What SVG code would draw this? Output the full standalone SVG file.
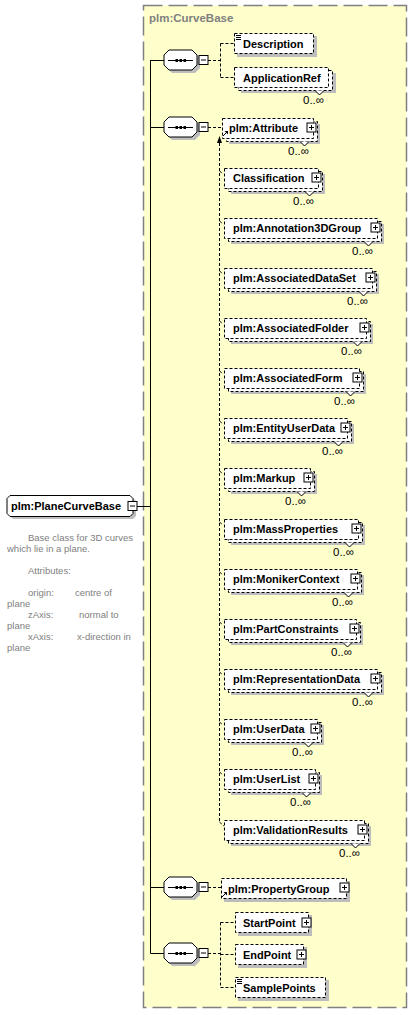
<svg xmlns="http://www.w3.org/2000/svg" width="412" height="1015" viewBox="0 0 412 1015">
<style>
.bg{fill:#FFFFCC;stroke:#808080;stroke-width:1.5;stroke-dasharray:19,6}
.ttl{font:bold 11.5px "Liberation Sans",Arial,sans-serif;fill:#808080}
.t{font:bold 11px "Liberation Sans",Arial,sans-serif;fill:#000}
.m{font:11.5px "Liberation Sans",Arial,sans-serif;fill:#000}
.a{font:9.5px "Liberation Sans",Arial,sans-serif;fill:#808080}
.sh{fill:#BDBDBD}
.bx{fill:#fff;stroke:#000;stroke-width:1;stroke-dasharray:3,2}
.sol{fill:#fff;stroke:#000;stroke-width:1}
.ln{fill:none;stroke:#000;stroke-width:1}
.dl{fill:none;stroke:#000;stroke-width:1;stroke-dasharray:3,2}
.v{fill:#fff;stroke:#000;stroke-width:1}
</style>
<defs>
<g id="plus"><rect class="sol" x="0" y="0" width="9" height="9"/><path class="ln" d="M2 4.5H7M4.5 2V7"/></g>
<g id="minus"><rect class="sol" x="0" y="0" width="9" height="9"/><path class="ln" d="M2 4.5H7"/></g>
<g id="seq">
<polygon class="sh" points="172,-7 195,-7 200,-2 200,8 195,13 172,13 167,8 167,-2"/>
<polygon class="sol" points="169,-10 192,-10 197,-5 197,5 192,10 169,10 164,5 164,-5"/>
<path class="ln" d="M168 0.5H193"/>
<rect x="175.5" y="-1" width="2.5" height="3" fill="#000"/>
<rect x="179.5" y="-1" width="2.5" height="3" fill="#000"/>
<rect x="183.5" y="-1" width="2.5" height="3" fill="#000"/>
<use href="#minus" x="199" y="-4.5"/>
</g>
<g id="refarrow"><path class="ln" d="M0 5L4 1"/><path d="M1.5 0H5V3.5Z" fill="#000"/></g>
</defs>

<g id="container">
<rect class="bg" x="143.5" y="5.5" width="263" height="1002"/>
<text class="ttl" x="149" y="22">plm:CurveBase</text>
</g>

<g id="connectors">
<path class="ln" d="M137 506.5H150.5M150.5 60V953.5M150.5 60.5H164M150.5 127.5H164M150.5 887.5H164M150.5 953.5H164"/>
<path class="dl" d="M208 60.5H220.5M220.5 43.5V77.5M220.5 43.5H234M220.5 77.5H234"/>
<path class="dl" d="M208 127.5H222M219.5 143V822M219.5 822L224 826"/>
<path d="M219.5 136L217 143H222Z" fill="#000"/>
<path class="dl" d="M219.5 171L223 174M219.5 221L223 224M219.5 271L223 274M219.5 321L223 324M219.5 371L223 374M219.5 421L223 424M219.5 471L223 474M219.5 522L223 525M219.5 572L223 575M219.5 622L223 625M219.5 672L223 675M219.5 722L223 725M219.5 772L223 775"/>
<path class="dl" d="M208 887.5H221"/>
<path class="dl" d="M208 953.5H220.5M220.5 922.5V987.5M220.5 922.5H235M220.5 954.5H235M220.5 987.5H235"/>
</g>

<g id="PlaneCurveBase">
<polygon class="sh" points="13,498 133,498 136,501 136,516 133,519 13,519 10,516 10,501"/>
<polygon class="sol" points="10,495.5 130,495.5 133,498.5 133,513.5 130,516.5 10,516.5 7,513.5 7,498.5"/>
<text class="t" x="11" y="510">plm:PlaneCurveBase</text>
<use href="#minus" x="128" y="501.5"/>
</g>
<g id="PlaneCurveBase-doc">
<text class="a" x="28" y="541">Base class for 3D curves</text>
<text class="a" x="7" y="552">which lie in a plane.</text>
<text class="a" x="28" y="574">Attributes:</text>
<text class="a" x="28" y="596">origin:</text><text class="a" x="75" y="596">centre of</text>
<text class="a" x="7" y="607">plane</text>
<text class="a" x="28" y="618">zAxis:</text><text class="a" x="79" y="618">normal to</text>
<text class="a" x="7" y="629">plane</text>
<text class="a" x="28" y="640">xAxis:</text><text class="a" x="77" y="640">x-direction in</text>
<text class="a" x="7" y="651">plane</text>
</g>

<g id="seq1"><use href="#seq" y="60"/></g>
<g id="seq2"><use href="#seq" y="127"/></g>
<g id="seq3"><use href="#seq" y="887"/></g>
<g id="seq4"><use href="#seq" y="953"/></g>

<g id="Description">
<rect class="sh" x="237" y="36" width="80" height="21"/>
<rect class="bx" x="234.5" y="33.5" width="79" height="20"/>
<path class="ln" d="M236 35.5H241M236 37.5H241M236 39.5H241"/>
<text class="t" x="243" y="48">Description</text>
</g>

<g id="ApplicationRef">
<rect class="sh" x="241" y="73" width="95" height="20"/>
<rect class="bx" x="238.5" y="70.5" width="94" height="20"/>
<rect class="bx" x="234.5" y="67.5" width="94" height="20"/>
<path class="v" d="M315 90.5L319.5 95L324 90.5"/>
<text class="t" x="243" y="82">ApplicationRef</text>
<text class="m" x="324" y="104" text-anchor="end">0..∞</text>
</g>

<g id="Attribute">
<rect class="sh" x="229" y="124" width="91" height="20"/>
<rect class="bx" x="226.5" y="121.5" width="91" height="20"/>
<rect class="bx" x="222.5" y="118.5" width="91" height="20"/>
<path class="v" d="M300 141.5L304.5 146L309 141.5"/>
<use href="#refarrow" x="223" y="131"/>
<text class="t" x="229" y="132">plm:Attribute</text>
<use href="#plus" x="307" y="123"/>
<text class="m" x="309" y="155" text-anchor="end">0..∞</text>
</g>

<g id="Classification">
<rect class="sh" x="231" y="174" width="94" height="20"/>
<rect class="bx" x="228.5" y="171.5" width="94" height="20"/>
<rect class="bx" x="224.5" y="168.5" width="94" height="20"/>
<path class="v" d="M305 191.5L309.5 196L314 191.5"/>
<text class="t" x="233" y="182">Classification</text>
<use href="#plus" x="312" y="173"/>
<text class="m" x="314" y="205" text-anchor="end">0..∞</text>
</g>

<g id="Annotation3DGroup">
<rect class="sh" x="231" y="224" width="153" height="20"/>
<rect class="bx" x="228.5" y="221.5" width="153" height="20"/>
<rect class="bx" x="224.5" y="218.5" width="153" height="20"/>
<path class="v" d="M364 241.5L368.5 246L373 241.5"/>
<text class="t" x="233" y="232">plm:Annotation3DGroup</text>
<use href="#plus" x="371" y="223"/>
<text class="m" x="373" y="255" text-anchor="end">0..∞</text>
</g>

<g id="AssociatedDataSet">
<rect class="sh" x="231" y="274" width="148" height="20"/>
<rect class="bx" x="228.5" y="271.5" width="148" height="20"/>
<rect class="bx" x="224.5" y="268.5" width="148" height="20"/>
<path class="v" d="M359 291.5L363.5 296L368 291.5"/>
<text class="t" x="233" y="282">plm:AssociatedDataSet</text>
<use href="#plus" x="366" y="273"/>
<text class="m" x="368" y="305" text-anchor="end">0..∞</text>
</g>

<g id="AssociatedFolder">
<rect class="sh" x="231" y="324" width="142" height="20"/>
<rect class="bx" x="228.5" y="321.5" width="142" height="20"/>
<rect class="bx" x="224.5" y="318.5" width="142" height="20"/>
<path class="v" d="M353 341.5L357.5 346L362 341.5"/>
<text class="t" x="233" y="332">plm:AssociatedFolder</text>
<use href="#plus" x="360" y="323"/>
<text class="m" x="362" y="355" text-anchor="end">0..∞</text>
</g>

<g id="AssociatedForm">
<rect class="sh" x="231" y="374" width="135" height="20"/>
<rect class="bx" x="228.5" y="371.5" width="135" height="20"/>
<rect class="bx" x="224.5" y="368.5" width="135" height="20"/>
<path class="v" d="M346 391.5L350.5 396L355 391.5"/>
<text class="t" x="233" y="382">plm:AssociatedForm</text>
<use href="#plus" x="353" y="373"/>
<text class="m" x="355" y="405" text-anchor="end">0..∞</text>
</g>

<g id="EntityUserData">
<rect class="sh" x="231" y="424" width="123" height="20"/>
<rect class="bx" x="228.5" y="421.5" width="123" height="20"/>
<rect class="bx" x="224.5" y="418.5" width="123" height="20"/>
<path class="v" d="M334 441.5L338.5 446L343 441.5"/>
<text class="t" x="233" y="432">plm:EntityUserData</text>
<use href="#plus" x="341" y="423"/>
<text class="m" x="343" y="455" text-anchor="end">0..∞</text>
</g>

<g id="Markup">
<rect class="sh" x="231" y="474" width="86" height="20"/>
<rect class="bx" x="228.5" y="471.5" width="86" height="20"/>
<rect class="bx" x="224.5" y="468.5" width="86" height="20"/>
<path class="v" d="M297 491.5L301.5 496L306 491.5"/>
<text class="t" x="233" y="482">plm:Markup</text>
<use href="#plus" x="304" y="473"/>
<text class="m" x="306" y="505" text-anchor="end">0..∞</text>
</g>

<g id="MassProperties">
<rect class="sh" x="231" y="525" width="134" height="20"/>
<rect class="bx" x="228.5" y="522.5" width="134" height="20"/>
<rect class="bx" x="224.5" y="519.5" width="134" height="20"/>
<path class="v" d="M345 542.5L349.5 547L354 542.5"/>
<text class="t" x="233" y="533">plm:MassProperties</text>
<use href="#plus" x="352" y="524"/>
<text class="m" x="354" y="556" text-anchor="end">0..∞</text>
</g>

<g id="MonikerContext">
<rect class="sh" x="231" y="575" width="133" height="20"/>
<rect class="bx" x="228.5" y="572.5" width="133" height="20"/>
<rect class="bx" x="224.5" y="569.5" width="133" height="20"/>
<path class="v" d="M344 592.5L348.5 597L353 592.5"/>
<text class="t" x="233" y="583">plm:MonikerContext</text>
<use href="#plus" x="351" y="574"/>
<text class="m" x="353" y="606" text-anchor="end">0..∞</text>
</g>

<g id="PartConstraints">
<rect class="sh" x="231" y="625" width="132" height="20"/>
<rect class="bx" x="228.5" y="622.5" width="132" height="20"/>
<rect class="bx" x="224.5" y="619.5" width="132" height="20"/>
<path class="v" d="M343 642.5L347.5 647L352 642.5"/>
<text class="t" x="233" y="633">plm:PartConstraints</text>
<use href="#plus" x="350" y="624"/>
<text class="m" x="352" y="656" text-anchor="end">0..∞</text>
</g>

<g id="RepresentationData">
<rect class="sh" x="231" y="675" width="153" height="20"/>
<rect class="bx" x="228.5" y="672.5" width="153" height="20"/>
<rect class="bx" x="224.5" y="669.5" width="153" height="20"/>
<path class="v" d="M364 692.5L368.5 697L373 692.5"/>
<text class="t" x="233" y="683">plm:RepresentationData</text>
<use href="#plus" x="371" y="674"/>
<text class="m" x="373" y="706" text-anchor="end">0..∞</text>
</g>

<g id="UserData">
<rect class="sh" x="231" y="725" width="93" height="20"/>
<rect class="bx" x="228.5" y="722.5" width="93" height="20"/>
<rect class="bx" x="224.5" y="719.5" width="93" height="20"/>
<path class="v" d="M304 742.5L308.5 747L313 742.5"/>
<text class="t" x="233" y="733">plm:UserData</text>
<use href="#plus" x="311" y="724"/>
<text class="m" x="313" y="756" text-anchor="end">0..∞</text>
</g>

<g id="UserList">
<rect class="sh" x="231" y="775" width="91" height="20"/>
<rect class="bx" x="228.5" y="772.5" width="91" height="20"/>
<rect class="bx" x="224.5" y="769.5" width="91" height="20"/>
<path class="v" d="M302 792.5L306.5 797L311 792.5"/>
<text class="t" x="233" y="783">plm:UserList</text>
<use href="#plus" x="309" y="774"/>
<text class="m" x="311" y="806" text-anchor="end">0..∞</text>
</g>

<g id="ValidationResults">
<rect class="sh" x="231" y="826" width="140" height="20"/>
<rect class="bx" x="228.5" y="823.5" width="140" height="20"/>
<rect class="bx" x="224.5" y="820.5" width="140" height="20"/>
<path class="v" d="M351 843.5L355.5 848L360 843.5"/>
<text class="t" x="233" y="834">plm:ValidationResults</text>
<use href="#plus" x="358" y="825"/>
<text class="m" x="360" y="857" text-anchor="end">0..∞</text>
</g>

<g id="PropertyGroup">
<rect class="sh" x="224" y="881" width="126" height="21"/>
<rect class="bx" x="221.5" y="878.5" width="125" height="20"/>
<use href="#refarrow" x="222" y="892"/>
<text class="t" x="228" y="893">plm:PropertyGroup</text>
<use href="#plus" x="340" y="883"/>
</g>

<g id="StartPoint">
<rect class="sh" x="238" y="915" width="74" height="21"/>
<rect class="bx" x="235.5" y="912.5" width="73" height="20"/>
<text class="t" x="243" y="927">StartPoint</text>
<use href="#plus" x="302" y="918"/>
</g>

<g id="EndPoint">
<rect class="sh" x="238" y="947" width="69" height="21"/>
<rect class="bx" x="235.5" y="944.5" width="68" height="20"/>
<text class="t" x="243" y="959">EndPoint</text>
<use href="#plus" x="297" y="950"/>
</g>

<g id="SamplePoints">
<rect class="sh" x="238" y="980" width="91" height="21"/>
<rect class="bx" x="235.5" y="977.5" width="90" height="20"/>
<path class="ln" d="M237 979.5H242M237 981.5H242M237 983.5H242"/>
<text class="t" x="243" y="992">SamplePoints</text>
</g>
</svg>
